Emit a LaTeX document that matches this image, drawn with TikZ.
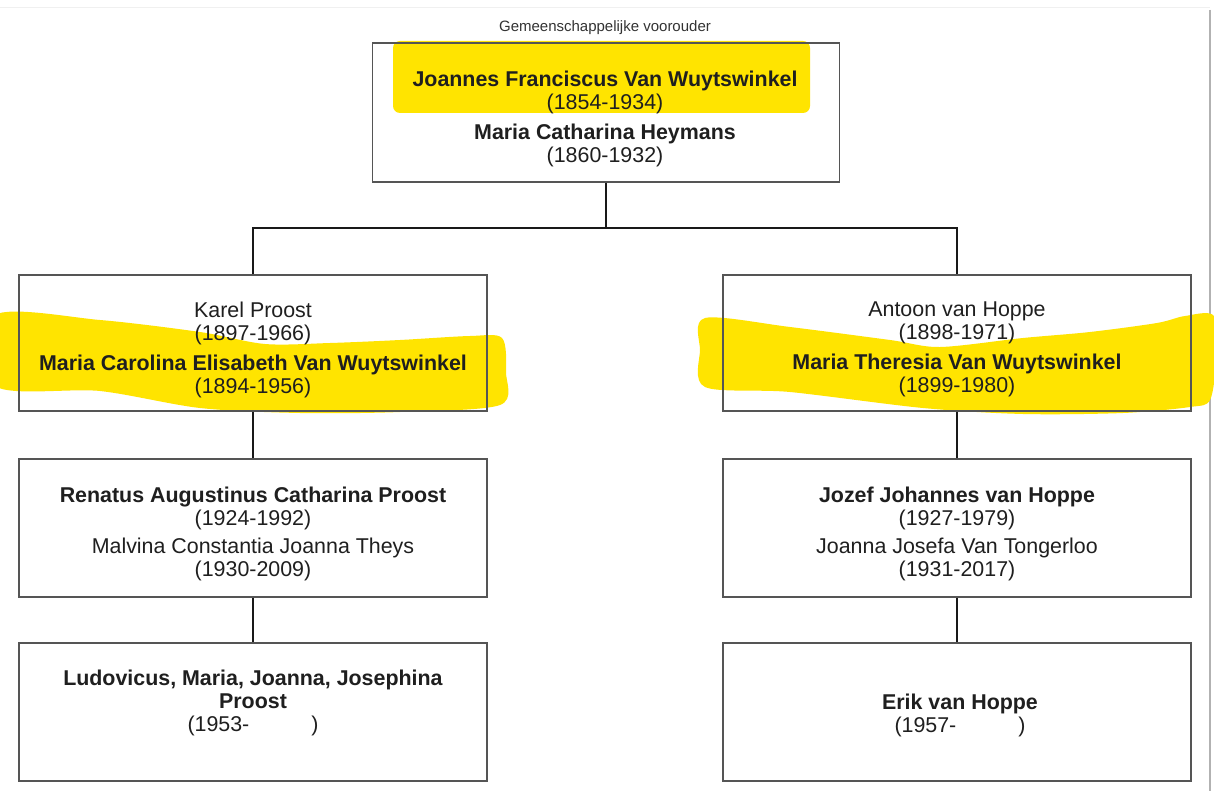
\documentclass[tikz,border=0pt]{standalone}
\usepackage{fontspec}
\setmainfont{Liberation Sans}
\definecolor{hl}{RGB}{255,228,0}
\definecolor{boxgray}{RGB}{85,85,85}
\begin{document}
\begin{tikzpicture}[x=1pt,y=-1pt,
  box/.style={draw=boxgray, line width=1.3pt, inner sep=0pt, minimum width=468pt},
  txt/.style={align=center, inner sep=0pt, text=black!88, font=\fontsize{21.4}{23}\selectfont},
  conn/.style={draw=black!90, line width=1.8pt},
  hilite/.style={fill=hl, draw=none}]
\useasboundingbox[fill=white] (0,0) rectangle (1214,791);
% page edges
\draw[gray!60, line width=2pt] (1210,10) -- (1210,791);
\draw[gray!12, line width=1pt] (0,8) -- (1210,8);
% highlights
\fill[hilite, rounded corners=7pt] (393,41) rectangle (810,113);
\fill[hilite] plot[smooth cycle, tension=0.5] coordinates {(-5,315) (100,320) (200,332) (265,344) (330,343) (400,340) (470,336) (502,338) (506,372) (500,405) (400,412) (300,413) (200,408) (100,391) (-5,386)};
\fill[hilite] plot[smooth cycle, tension=0.5] coordinates {(705,318) (790,327) (890,340) (940,347) (1023,338) (1090,332) (1157,323) (1185,316) (1214,316) (1216,360) (1210,400) (1190,407) (1123,413) (1023,414) (923,408) (790,392) (705,387) (700,350)};
% boxes
\node[box, minimum width=467pt, minimum height=139pt] (top) at (606,112.5) {};
\node[box, minimum height=136pt] (l2) at (253,343) {};
\node[box, minimum height=136pt] (r2) at (957,343) {};
\node[box, minimum height=138pt] (l3) at (253,528) {};
\node[box, minimum height=138pt] (r3) at (957,528) {};
\node[box, minimum height=138pt] (l4) at (253,712) {};
\node[box, minimum height=138pt] (r4) at (957,712) {};
% label
\node[inner sep=0pt, font=\fontsize{15}{17}\selectfont, text=black!80] (lab) at (605,28) {Gemeenschappelijke voorouder};
% texts
\node[txt] (ttop) at (605,118.5) {\textbf{Joannes Franciscus Van Wuytswinkel}\\(1854-1934)\\[7pt]\textbf{Maria Catharina Heymans}\\(1860-1932)};
\node[txt] (tl2) at (253,349.5) {Karel Proost\\(1897-1966)\\[7pt]\textbf{Maria Carolina Elisabeth Van Wuytswinkel}\\(1894-1956)};
\node[txt] (tr2) at (957,349.5) {Antoon van Hoppe\\(1898-1971)\\[7pt]\textbf{Maria Theresia Van Wuytswinkel}\\(1899-1980)};
\node[txt] (tl3) at (253,533.5) {\textbf{Renatus Augustinus Catharina Proost}\\(1924-1992)\\[5pt]Malvina Constantia Joanna Theys\\(1930-2009)};
\node[txt] (tr3) at (957,533.5) {\textbf{Jozef Johannes van Hoppe}\\(1927-1979)\\[5pt]Joanna Josefa Van Tongerloo\\(1931-2017)};
\node[txt] (tl4) at (253,703) {\textbf{Ludovicus, Maria, Joanna, Josephina}\\\textbf{Proost}\\(1953-\hspace{62pt})};
\node[txt] (tr4) at (960,715.5) {\textbf{Erik van Hoppe}\\(1957-\hspace{62pt})};
% connectors
\coordinate (j) at (606,228);
\draw[conn] (top.south) -- (j);
\draw[conn] (l2.north) |- (j) -| (r2.north);
\draw[conn] (l2.south) -- (l3.north);
\draw[conn] (l3.south) -- (l4.north);
\draw[conn] (r2.south) -- (r3.north);
\draw[conn] (r3.south) -- (r4.north);
\end{tikzpicture}
\end{document}
